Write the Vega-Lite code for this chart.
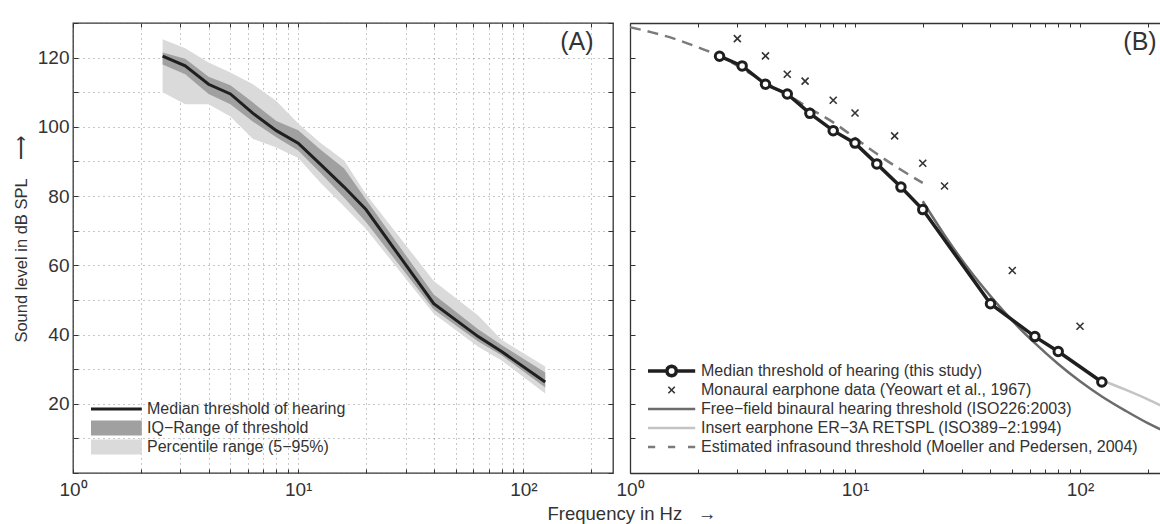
{
  "$schema": "https://vega.github.io/schema/vega-lite/v6.json",
  "background": "white",
  "padding": {"left": 12, "top": 13, "right": 0, "bottom": 0},
  "config": {
    "font": "Liberation Sans",
    "view": {"stroke": "#333333", "strokeWidth": 1.3},
    "concat": {"spacing": 0},
    "axis": {
      "labelFont": "Liberation Sans", "labelFontSize": 19, "labelColor": "#333333",
      "tickColor": "#333333", "domainColor": "#333333", "domainWidth": 1.3, "tickWidth": 1,
      "titleFont": "Liberation Sans", "titleFontSize": 16.5, "titleFontWeight": "normal", "titleColor": "#333333",
      "gridColor": "#777777", "gridDash": [1, 4], "gridWidth": 1, "gridOpacity": 0.8,
      "labelFlush": false, "labelOverlap": false, "labelBound": false, "minExtent": 0, "offset": 0
    },
    "legend": {
      "labelFont": "Liberation Sans", "labelFontSize": 16, "labelColor": "#333333",
      "symbolSize": 256, "rowPadding": 3, "orient": "bottom-left", "offset": 18, "padding": 0,
      "labelLimit": 700
    }
  },
  "title": {
    "text": "Frequency in Hz\u00a0\u00a0\u00a0→", "orient": "bottom", "anchor": "middle",
    "fontSize": 18.5, "fontWeight": "normal", "font": "Liberation Sans", "color": "#333333", "dx": 45, "offset": 5
  },
  "datasets": {
    "study": [
      {"f": 2.5, "p5": 110, "q1": 118, "med": 120.4, "q3": 121.5, "p95": 125.3},
      {"f": 3.15, "p5": 106.5, "q1": 115.2, "med": 117.6, "q3": 119.7, "p95": 122.7},
      {"f": 4, "p5": 106.5, "q1": 109.5, "med": 112.3, "q3": 114.5, "p95": 118.6},
      {"f": 5, "p5": 103, "q1": 106.5, "med": 109.5, "q3": 112, "p95": 115.7},
      {"f": 6.3, "p5": 96.5, "q1": 101.5, "med": 103.9, "q3": 107, "p95": 112.3},
      {"f": 8, "p5": 94, "q1": 97, "med": 98.9, "q3": 101.7, "p95": 107.5},
      {"f": 10, "p5": 91, "q1": 93.2, "med": 95.3, "q3": 99, "p95": 101},
      {"f": 12.5, "p5": 84, "q1": 86.8, "med": 89.3, "q3": 93.5, "p95": 95.5},
      {"f": 16, "p5": 77, "q1": 79.5, "med": 82.6, "q3": 88, "p95": 90.3},
      {"f": 20, "p5": 70.5, "q1": 72.5, "med": 76.1, "q3": 79, "p95": 80.5},
      {"f": 40, "p5": 46, "q1": 47.2, "med": 48.9, "q3": 51.6, "p95": 55.5},
      {"f": 63, "p5": 36.5, "q1": 38, "med": 39.4, "q3": 41.5, "p95": 45.5},
      {"f": 80, "p5": 32.5, "q1": 34, "med": 35.1, "q3": 37, "p95": 38.5},
      {"f": 125, "p5": 23, "q1": 24.7, "med": 26.3, "q3": 29, "p95": 30.8}
    ],
    "yeowart": [
      {"f": 3, "db": 125.5}, {"f": 4, "db": 120.5}, {"f": 5, "db": 115.2}, {"f": 6, "db": 113.2},
      {"f": 8, "db": 107.7}, {"f": 10, "db": 104}, {"f": 15, "db": 97.4}, {"f": 20, "db": 89.5},
      {"f": 25, "db": 82.9}, {"f": 50, "db": 58.5}, {"f": 100, "db": 42.4}
    ],
    "iso226": [
      {"f": 20, "db": 78.5}, {"f": 25, "db": 68.7}, {"f": 31.5, "db": 59.5}, {"f": 40, "db": 51.1},
      {"f": 50, "db": 44.0}, {"f": 63, "db": 37.5}, {"f": 80, "db": 31.5}, {"f": 100, "db": 26.5},
      {"f": 125, "db": 22.1}, {"f": 160, "db": 17.9}, {"f": 200, "db": 14.4}, {"f": 250, "db": 11.4}
    ],
    "iso389": [
      {"f": 125, "db": 26.8}, {"f": 160, "db": 24}, {"f": 200, "db": 21.3}, {"f": 250, "db": 18.3}
    ],
    "mp2004": [
      {"f": 1, "db": 128.8}, {"f": 1.25, "db": 127.3}, {"f": 1.6, "db": 125.3}, {"f": 2, "db": 123},
      {"f": 2.5, "db": 120.5}, {"f": 3.15, "db": 116.8}, {"f": 4, "db": 112.8}, {"f": 5, "db": 109.3},
      {"f": 6.3, "db": 105.3}, {"f": 8, "db": 101.3}, {"f": 10, "db": 96.8}, {"f": 12.5, "db": 92.2},
      {"f": 16, "db": 87.6}, {"f": 20, "db": 83.8}
    ],
    "tagA": [{"f": 205, "db": 124.5, "label": "(A)"}],
    "tagB": [{"f": 219, "db": 124.5, "label": "(B)"}]
  },
  "spacing": 0,
  "hconcat": [
    {
      "width": 540,
      "height": 450,
      "layer": [
        {
          "data": {"name": "study"},
          "mark": {"type": "area", "opacity": 1, "clip": true},
          "encoding": {
            "x": {"field": "f", "type": "quantitative",
              "scale": {"type": "log", "domain": [1, 250], "nice": false},
              "axis": {"orient": "bottom", "values": [1,2,3,4,5,6,7,8,9,10,20,30,40,50,60,70,80,90,100,200],
                "labelExpr": "datum.value == 1 ? '10⁰' : datum.value == 10 ? '10¹' : datum.value == 100 ? '10²' : ''",
                "grid": true, "domain": false, "tickSize": -4, "labelPadding": 11, "title": null}},
            "y": {"field": "p5", "type": "quantitative",
              "scale": {"domain": [0, 130], "nice": false, "zero": false},
              "axis": {"orient": "left", "values": [0,10,20,30,40,50,60,70,80,90,100,110,120,130],
                "labelExpr": "datum.value % 20 === 0 && datum.value > 0 && datum.value < 130 ? datum.label : ''",
                "grid": true, "domain": false, "tickSize": -5, "labelPadding": 9,
                "title": "\u200b\u00a0\u00a0\u00a0\u00a0Sound level in dB SPL\u00a0\u00a0\u00a0\u00a0⟶", "titlePadding": 8}},
            "y2": {"field": "p95"},
            "color": {"datum": "Percentile range (5−95%)", "type": "nominal",
              "scale": {"domain": ["Median threshold of hearing", "IQ−Range of threshold", "Percentile range (5−95%)"],
                "range": ["#1f1f1f", "#a0a0a0", "#dadada"]},
              "legend": {"title": null, "labelOffset": 40, "offset": 18,
                "encode": {"symbols": {"update": {
                  "shape": {"signal": "datum.value === 'Median threshold of hearing' ? 'M-1,0H5.35' : 'M-1,-0.95H5.35V0.95H-1Z'"},
                  "fill": {"signal": "datum.value === 'IQ−Range of threshold' ? '#a0a0a0' : datum.value === 'Percentile range (5−95%)' ? '#dadada' : 'transparent'"},
                  "stroke": {"value": "#1f1f1f"},
                  "strokeWidth": {"signal": "datum.value === 'Median threshold of hearing' ? 3 : 0"},
                  "strokeJoin": {"value": "round"},
                  "strokeCap": {"value": "butt"},
                  "opacity": {"value": 1}
                }}}}}
          }
        },
        {
          "data": {"name": "study"},
          "mark": {"type": "area", "opacity": 1, "clip": true},
          "encoding": {
            "x": {"field": "f", "type": "quantitative", "axis": null},
            "y": {"field": "q1", "type": "quantitative", "axis": null},
            "y2": {"field": "q3"},
            "color": {"datum": "IQ−Range of threshold", "type": "nominal",
              "legend": {"title": null, "labelOffset": 40, "offset": 18,
                "encode": {"symbols": {"update": {
                  "shape": {"signal": "datum.value === 'Median threshold of hearing' ? 'M-1,0H5.35' : 'M-1,-0.95H5.35V0.95H-1Z'"},
                  "fill": {"signal": "datum.value === 'IQ−Range of threshold' ? '#a0a0a0' : datum.value === 'Percentile range (5−95%)' ? '#dadada' : 'transparent'"},
                  "stroke": {"value": "#1f1f1f"},
                  "strokeWidth": {"signal": "datum.value === 'Median threshold of hearing' ? 3 : 0"},
                  "strokeJoin": {"value": "round"},
                  "strokeCap": {"value": "butt"},
                  "opacity": {"value": 1}
                }}}}}
          }
        },
        {
          "data": {"name": "study"},
          "mark": {"type": "line", "strokeWidth": 3, "clip": true},
          "encoding": {
            "x": {"field": "f", "type": "quantitative", "axis": null},
            "y": {"field": "med", "type": "quantitative", "axis": null},
            "color": {"datum": "Median threshold of hearing", "type": "nominal",
              "legend": {"title": null, "labelOffset": 40, "offset": 18,
                "encode": {"symbols": {"update": {
                  "shape": {"signal": "datum.value === 'Median threshold of hearing' ? 'M-1,0H5.35' : 'M-1,-0.95H5.35V0.95H-1Z'"},
                  "fill": {"signal": "datum.value === 'IQ−Range of threshold' ? '#a0a0a0' : datum.value === 'Percentile range (5−95%)' ? '#dadada' : 'transparent'"},
                  "stroke": {"value": "#1f1f1f"},
                  "strokeWidth": {"signal": "datum.value === 'Median threshold of hearing' ? 3 : 0"},
                  "strokeJoin": {"value": "round"},
                  "strokeCap": {"value": "butt"},
                  "opacity": {"value": 1}
                }}}}}
          }
        },
        {
          "data": {"name": "tagA"},
          "mark": {"type": "text", "align": "right", "baseline": "middle", "fontSize": 25, "color": "#333333", "font": "Liberation Sans"},
          "encoding": {
            "x": {"field": "f", "type": "quantitative",
              "axis": {"orient": "top", "values": [1,2,3,4,5,6,7,8,9,10,20,30,40,50,60,70,80,90,100,200],
                "labels": false, "grid": false, "domain": false, "tickSize": -4, "title": null}},
            "y": {"field": "db", "type": "quantitative",
              "axis": {"orient": "right", "values": [0,10,20,30,40,50,60,70,80,90,100,110,120,130],
                "labels": false, "grid": false, "domain": false, "tickSize": -5, "title": null}},
            "text": {"field": "label"}
          }
        }
      ],
      "resolve": {"axis": {"x": "independent", "y": "independent"}}
    },
    {
      "width": 531,
      "height": 450,
      "view": {"stroke": null},
      "layer": [
        {
          "data": {"name": "iso226"},
          "mark": {"type": "line", "strokeWidth": 2.5, "clip": true, "interpolate": "monotone"},
          "encoding": {
            "x": {"field": "f", "type": "quantitative",
              "scale": {"type": "log", "domain": [1, 229], "nice": false},
              "axis": {"orient": "bottom", "values": [1,2,3,4,5,6,7,8,9,10,20,30,40,50,60,70,80,90,100,200],
                "labelExpr": "datum.value == 1 ? '10⁰' : datum.value == 10 ? '10¹' : datum.value == 100 ? '10²' : ''",
                "grid": false, "domain": true, "tickSize": -4, "labelPadding": 11, "title": null}},
            "y": {"field": "db", "type": "quantitative",
              "scale": {"domain": [0, 130], "nice": false, "zero": false},
              "axis": {"orient": "left", "values": [0,10,20,30,40,50,60,70,80,90,100,110,120,130],
                "labels": false, "grid": false, "domain": true, "tickSize": -5, "title": null}},
            "color": {"datum": "Free−field binaural hearing threshold (ISO226:2003)", "type": "nominal",
              "scale": {"domain": [
                "Median threshold of hearing (this study)",
                "Monaural earphone data (Yeowart et al., 1967)",
                "Free−field binaural hearing threshold (ISO226:2003)",
                "Insert earphone ER−3A RETSPL (ISO389−2:1994)",
                "Estimated infrasound threshold (Moeller and Pedersen, 2004)"],
                "range": ["#1f1f1f", "#333333", "#6b6b6b", "#c4c4c4", "#7b7b7b"]},
              "legend": {"title": null, "labelOffset": 37, "offset": 18,
                "encode": {"symbols": {"update": {
                  "shape": {"signal": "datum.value === 'Median threshold of hearing (this study)' ? 'M-1,0H1.35M2.55,0L2.47,0.3L2.25,0.52L1.95,0.6L1.65,0.52L1.43,0.3L1.35,0L1.43,-0.3L1.65,-0.52L1.95,-0.6L2.25,-0.52L2.47,-0.3ZM2.55,0H4.9' : datum.value === 'Monaural earphone data (Yeowart et al., 1967)' ? 'M1.55,-0.4L2.35,0.4M1.55,0.4L2.35,-0.4' : datum.value === 'Estimated infrasound threshold (Moeller and Pedersen, 2004)' ? 'M-1,0H-0.1M1.5,0H2.4M4,0H4.9' : 'M-1,0H4.9'"},
                  "stroke": {"signal": "datum.value === 'Median threshold of hearing (this study)' ? '#1f1f1f' : datum.value === 'Monaural earphone data (Yeowart et al., 1967)' ? '#333333' : datum.value === 'Free−field binaural hearing threshold (ISO226:2003)' ? '#6b6b6b' : datum.value === 'Insert earphone ER−3A RETSPL (ISO389−2:1994)' ? '#c4c4c4' : '#7b7b7b'"},
                  "strokeWidth": {"signal": "datum.value === 'Median threshold of hearing (this study)' ? 3.5 : datum.value === 'Monaural earphone data (Yeowart et al., 1967)' ? 1.6 : 2.5"},
                  "strokeCap": {"value": "butt"},
                  "strokeJoin": {"value": "round"},
                  "fill": {"value": "transparent"},
                  "opacity": {"value": 1}
                }}}}}
          }
        },
        {
          "data": {"name": "iso389"},
          "mark": {"type": "line", "strokeWidth": 2.5, "clip": true, "interpolate": "monotone"},
          "encoding": {
            "x": {"field": "f", "type": "quantitative", "axis": null},
            "y": {"field": "db", "type": "quantitative", "axis": null},
            "color": {"datum": "Insert earphone ER−3A RETSPL (ISO389−2:1994)", "type": "nominal"}
          }
        },
        {
          "data": {"name": "mp2004"},
          "mark": {"type": "line", "strokeWidth": 2.5, "strokeDash": [11, 7], "clip": true, "interpolate": "monotone"},
          "encoding": {
            "x": {"field": "f", "type": "quantitative", "axis": null},
            "y": {"field": "db", "type": "quantitative", "axis": null},
            "color": {"datum": "Estimated infrasound threshold (Moeller and Pedersen, 2004)", "type": "nominal"}
          }
        },
        {
          "data": {"name": "study"},
          "mark": {"type": "line", "strokeWidth": 3.5, "clip": true},
          "encoding": {
            "x": {"field": "f", "type": "quantitative", "axis": null},
            "y": {"field": "med", "type": "quantitative", "axis": null},
            "color": {"datum": "Median threshold of hearing (this study)", "type": "nominal"}
          }
        },
        {
          "data": {"name": "study"},
          "mark": {"type": "point", "shape": "circle", "filled": true, "fill": "white", "stroke": "#1f1f1f", "strokeWidth": 3, "size": 72, "opacity": 1},
          "encoding": {
            "x": {"field": "f", "type": "quantitative", "axis": null},
            "y": {"field": "med", "type": "quantitative", "axis": null}
          }
        },
        {
          "data": {"name": "yeowart"},
          "mark": {"type": "point", "shape": "M-1,-1L1,1M-1,1L1,-1", "filled": false, "strokeWidth": 1.6, "size": 49, "opacity": 1},
          "encoding": {
            "x": {"field": "f", "type": "quantitative", "axis": null},
            "y": {"field": "db", "type": "quantitative", "axis": null},
            "color": {"datum": "Monaural earphone data (Yeowart et al., 1967)", "type": "nominal"}
          }
        },
        {
          "data": {"name": "tagB"},
          "mark": {"type": "text", "align": "right", "baseline": "middle", "fontSize": 25, "color": "#333333", "font": "Liberation Sans"},
          "encoding": {
            "x": {"field": "f", "type": "quantitative",
              "axis": {"orient": "top", "values": [1,2,3,4,5,6,7,8,9,10,20,30,40,50,60,70,80,90,100,200],
                "labels": false, "grid": false, "domain": true, "tickSize": -4, "title": null}},
            "y": {"field": "db", "type": "quantitative", "axis": null},
            "text": {"field": "label"}
          }
        }
      ],
      "resolve": {"axis": {"x": "independent", "y": "independent"}}
    }
  ],
  "resolve": {
    "scale": {"color": "independent", "x": "independent", "y": "independent"},
    "legend": {"color": "independent"}
  }
}
